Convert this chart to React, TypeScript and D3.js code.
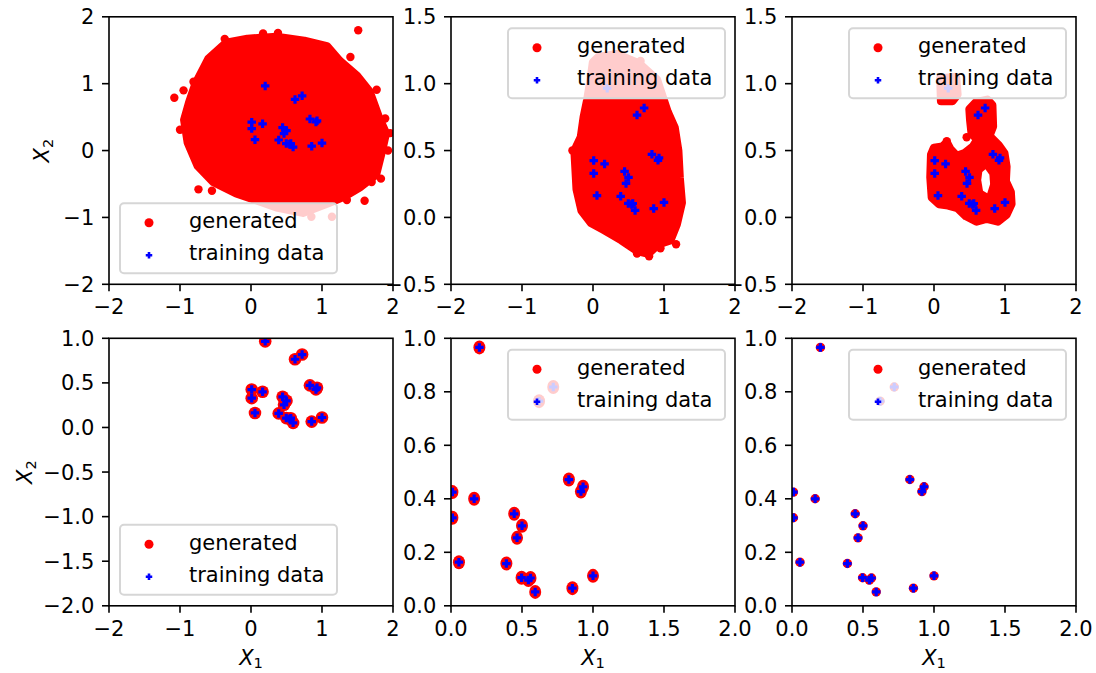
import * as d3 from "d3";
import { useEffect, useRef } from "react";

// training samples (x1, x2)
const trainingPoints: [number, number][] = [
  [0.2, 0.966], [0.83, 0.472], [0.93, 0.445], [0.915, 0.427], [0.01, 0.425],
  [0.163, 0.4], [0.445, 0.344], [0.5, 0.299], [0.01, 0.329], [0.465, 0.254],
  [0.056, 0.163], [0.39, 0.158], [0.497, 0.105], [0.56, 0.104], [0.545, 0.096],
  [0.593, 0.052], [0.855, 0.066], [1.0, 0.112], [0.72, 0.818], [0.62, 0.765],
];

// outline of the dense generated cloud (marker centres along the edge)
const cloudTopLeft: [number, number][] = [
  [-0.35, 1.61], [-0.05, 1.67], [0.36, 1.7], [0.75, 1.64], [1.07, 1.56], [1.25, 1.34],
  [1.49, 1.12], [1.67, 0.88], [1.8, 0.5], [1.9, 0.26], [1.85, 0.02], [1.76, -0.36],
  [1.53, -0.55], [1.31, -0.69], [1.08, -0.79], [0.73, -0.93], [0.36, -0.85], [0.1, -0.75],
  [-0.21, -0.64], [-0.53, -0.47], [-0.75, -0.23], [-0.89, 0.12], [-0.94, 0.46],
  [-0.87, 0.72], [-0.78, 1.0], [-0.6, 1.37],
];
const strayTopLeft: [number, number][] = [
  [1.51, 1.8], [-1.08, 0.79], [-0.81, 1.03], [-1.0, 0.31], [-0.74, -0.58], [0.85, -0.99],
  [1.14, -0.99], [1.77, 0.91], [1.89, 0.48], [1.96, 0.26], [1.93, 0.0], [1.83, -0.42],
  [1.7, -0.47], [1.35, -0.74], [-0.37, 1.67], [0.17, 1.75], [0.38, 1.76], [-0.55, -0.6],
  [1.6, -0.75], [1.4, 1.4], [-0.95, 0.9],
];

const cloudTopMid: [number, number][] = [
  [0.08, 1.2], [0.34, 1.22], [0.65, 1.15], [0.9, 1.03], [1.0, 0.87], [1.05, 0.79],
  [1.15, 0.67], [1.2, 0.5], [1.22, 0.3], [1.25, 0.11], [1.18, -0.05], [1.09, -0.17],
  [0.92, -0.2], [0.78, -0.27], [0.62, -0.25], [0.4, -0.17], [0.14, -0.09], [-0.03, -0.04],
  [-0.16, 0.05], [-0.23, 0.21], [-0.26, 0.5], [-0.17, 0.6], [-0.13, 0.75], [-0.08, 0.88],
  [-0.03, 1.04], [0.0, 1.16],
];
const strayTopMid: [number, number][] = [
  [0.62, -0.27], [0.79, -0.29], [1.17, -0.2], [0.95, -0.23], [0.67, 1.17], [-0.29, 0.5],
];

const cloudTopRightUpper: [number, number][] = [
  [0.09, 1.04], [0.31, 1.05], [0.33, 0.92], [0.26, 0.87], [0.1, 0.87],
];
const cloudTopRightMain: [number, number][] = [
  [0.5, 0.81], [0.59, 0.86], [0.75, 0.88], [0.82, 0.84], [0.83, 0.68], [0.78, 0.61],
  [0.91, 0.54], [0.99, 0.48], [1.02, 0.38], [1.01, 0.27], [1.08, 0.19], [1.09, 0.1],
  [1.02, 0.02], [0.9, -0.03], [0.74, -0.01], [0.6, -0.03], [0.45, 0.01], [0.33, 0.07],
  [0.2, 0.09], [0.07, 0.1], [-0.03, 0.15], [-0.05, 0.3], [-0.04, 0.47], [0.0, 0.52],
  [0.12, 0.53], [0.18, 0.56], [0.23, 0.51], [0.32, 0.46], [0.43, 0.48], [0.55, 0.53],
  [0.61, 0.58], [0.53, 0.63], [0.51, 0.73],
];
const gapTopRight: [number, number][] = [
  [0.725, 0.36], [0.78, 0.32], [0.79, 0.25], [0.75, 0.18], [0.69, 0.2], [0.665, 0.28], [0.68, 0.34],
];
const strayTopRight: [number, number][] = [[0.46, 0.6], [0.18, 0.57]];

const ticksWide = [-2, -1, 0, 1, 2];
const ticksHalf = [-0.5, 0, 0.5, 1, 1.5];
const ticksLowLeft = [-2, -1.5, -1, -0.5, 0, 0.5, 1];
const ticksUnitX = [0, 0.5, 1, 1.5, 2];
const ticksUnitY = [0, 0.2, 0.4, 0.6, 0.8, 1];

const legendLabels = ["generated", "training data"];

const RED = "#ff0000";
const BLUE = "#0000ff";
const FONT = "'DejaVu Sans', sans-serif";
const FS = 21;
const W = 284;
const H = 267.5;
const cols = [109, 451, 792];
const rows = [16.8, 338.3];
const yLabelX = [49, 32];

const panels = [
  { col: 0, row: 0, xd: [-2, 2], yd: [-2, 2], xt: ticksWide, yt: ticksWide, clouds: [cloudTopLeft], gaps: [], stray: strayTopLeft, blob: null, legend: "ll", xf: "d", yf: "d" },
  { col: 1, row: 0, xd: [-2, 2], yd: [-0.5, 1.5], xt: ticksWide, yt: ticksHalf, clouds: [cloudTopMid], gaps: [], stray: strayTopMid, blob: null, legend: "ur", xf: "d", yf: ".1f" },
  { col: 2, row: 0, xd: [-2, 2], yd: [-0.5, 1.5], xt: ticksWide, yt: ticksHalf, clouds: [cloudTopRightUpper, cloudTopRightMain], gaps: [gapTopRight], stray: strayTopRight, blob: null, legend: "ur", xf: "d", yf: ".1f" },
  { col: 0, row: 1, xd: [-2, 2], yd: [-2, 1], xt: ticksWide, yt: ticksLowLeft, clouds: [], gaps: [], stray: [], blob: [6.3, 6.3], legend: "ll", xf: "d", yf: ".1f" },
  { col: 1, row: 1, xd: [0, 2], yd: [0, 1], xt: ticksUnitX, yt: ticksUnitY, clouds: [], gaps: [], stray: [], blob: [6, 7], legend: "ur", xf: ".1f", yf: ".1f" },
  { col: 2, row: 1, xd: [0, 2], yd: [0, 1], xt: ticksUnitX, yt: ticksUnitY, clouds: [], gaps: [], stray: [], blob: [4.7, 4.7], legend: "ur", xf: ".1f", yf: ".1f" },
];

// filled "P" style plus marker
const plus = (s, w) => {
  const h = s / 2;
  return `M${-w},${-h}H${w}V${-w}H${h}V${w}H${w}V${h}H${-w}V${w}H${-h}V${-w}H${-w}Z`;
};

const drawPanel = (svg, defs, p, i) => {
  const left = cols[p.col];
  const top = rows[p.row];
  const x = d3.scaleLinear().domain(p.xd).range([left, left + W]);
  const y = d3.scaleLinear().domain(p.yd).range([top + H, top]);
  const line = d3.line().x((d) => x(d[0])).y((d) => y(d[1])).curve(d3.curveLinearClosed);

  defs.append("clipPath").attr("id", `clip${i}`)
    .append("rect").attr("x", left).attr("y", top).attr("width", W).attr("height", H);

  const g = svg.append("g");
  const plot = g.append("g").attr("clip-path", `url(#clip${i})`);

  plot.selectAll(null).data(p.clouds).join("path")
    .attr("d", (d) => line(d))
    .attr("fill", RED).attr("stroke", RED).attr("stroke-width", 8.4).attr("stroke-linejoin", "round");
  plot.selectAll(null).data(p.gaps).join("path").attr("d", (d) => line(d)).attr("fill", "#fff");
  plot.selectAll(null).data(p.stray).join("circle")
    .attr("cx", (d) => x(d[0])).attr("cy", (d) => y(d[1])).attr("r", 4.2).attr("fill", RED);
  if (p.blob) {
    plot.selectAll(null).data(trainingPoints).join("ellipse")
      .attr("cx", (d) => x(d[0])).attr("cy", (d) => y(d[1]))
      .attr("rx", p.blob[0]).attr("ry", p.blob[1]).attr("fill", RED);
  }
  plot.selectAll(null).data(trainingPoints).join("path")
    .attr("d", plus(8.5, 1.6))
    .attr("transform", (d) => `translate(${x(d[0])},${y(d[1])})`)
    .attr("fill", BLUE);

  // spines
  g.append("rect").attr("x", left).attr("y", top).attr("width", W).attr("height", H)
    .attr("fill", "none").attr("stroke", "#000").attr("stroke-width", 1.6);

  const fx = d3.format(p.xf);
  const fy = d3.format(p.yf);
  const xt = g.append("g").selectAll(null).data(p.xt).join("g")
    .attr("transform", (d) => `translate(${x(d)},${top + H})`);
  xt.append("line").attr("y2", 7).attr("stroke", "#000").attr("stroke-width", 1.6);
  xt.append("text").attr("y", 14.7).attr("dy", "0.73em").attr("text-anchor", "middle")
    .attr("font-family", FONT).attr("font-size", FS).text((d) => fx(d));

  const yt = g.append("g").selectAll(null).data(p.yt).join("g")
    .attr("transform", (d) => `translate(${left},${y(d)})`);
  yt.append("line").attr("x2", -7).attr("stroke", "#000").attr("stroke-width", 1.6);
  yt.append("text").attr("x", -14.7).attr("dy", "0.36em").attr("text-anchor", "end")
    .attr("font-family", FONT).attr("font-size", FS).text((d) => fy(d));

  // legend
  const lw = 217;
  const lh = 70;
  const lx = p.legend === "ll" ? left + 11 : left + W - 10 - lw;
  const ly = p.legend === "ll" ? top + H - 11 - lh : top + 11.5;
  const lg = g.append("g").attr("transform", `translate(${lx},${ly})`);
  lg.append("rect").attr("width", lw).attr("height", lh).attr("rx", 4)
    .attr("fill", "#fff").attr("fill-opacity", 0.8).attr("stroke", "#d6d6d6").attr("stroke-width", 2);
  lg.append("circle").attr("cx", 29).attr("cy", 19.5).attr("r", 4.5).attr("fill", RED);
  lg.append("path").attr("d", plus(6.5, 1.3)).attr("transform", "translate(29,52)").attr("fill", BLUE);
  lg.selectAll(null).data(legendLabels).join("text")
    .attr("x", 69).attr("y", (d, k) => (k === 0 ? 25 : 57))
    .attr("font-family", FONT).attr("font-size", FS).text((d) => d);

  // axis labels
  if (p.row === 1) {
    const t = g.append("text").attr("x", left + W / 2).attr("y", 665).attr("text-anchor", "middle")
      .attr("font-family", FONT).attr("font-size", FS);
    t.append("tspan").attr("font-style", "italic").text("X");
    t.append("tspan").attr("font-size", FS * 0.7).attr("dy", 3).text("1");
  }
  if (p.col === 0) {
    const t = g.append("text").attr("transform", `translate(${yLabelX[p.row]},${top + H / 2}) rotate(-90)`)
      .attr("text-anchor", "middle").attr("font-family", FONT).attr("font-size", FS);
    t.append("tspan").attr("font-style", "italic").text("X");
    t.append("tspan").attr("font-size", FS * 0.7).attr("dy", 4).text("2");
  }
};

const chart = (el) => {
  const svg = d3.select(el);
  svg.selectAll("*").remove();
  const defs = svg.append("defs");
  panels.forEach((p, i) => drawPanel(svg, defs, p, i));
};

export default function App() {
  const svgRef = useRef(null);
  useEffect(() => {
    chart(svgRef.current);
  }, []);
  return (
    <svg
      ref={svgRef}
      width={1096}
      height={673}
      style={{ position: "absolute", left: 0, top: 0, background: "#fff" }}
    />
  );
}
